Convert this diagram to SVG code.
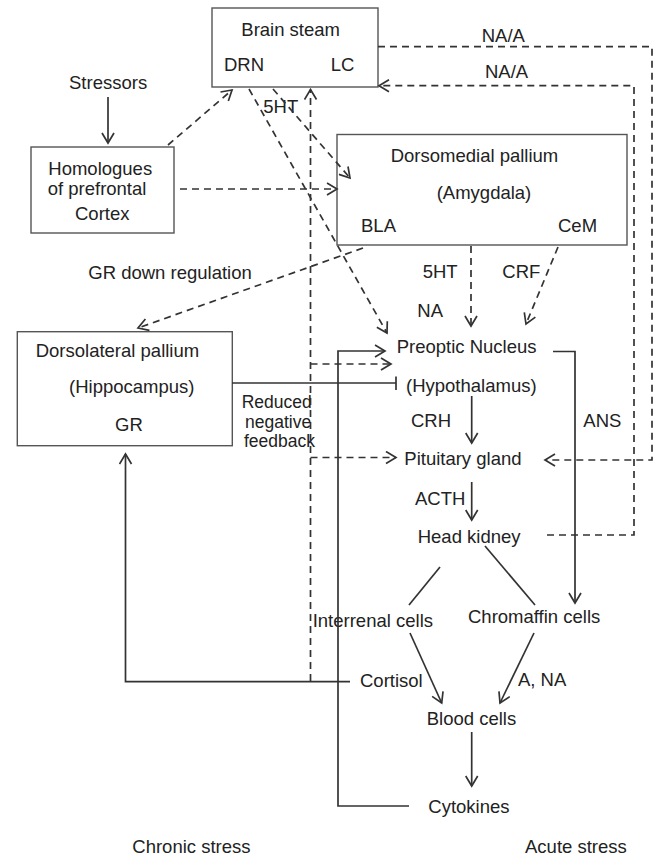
<svg xmlns="http://www.w3.org/2000/svg" width="656" height="857" viewBox="0 0 656 857">
<style>
text{font-family:"Liberation Sans",Arial,sans-serif;font-size:18.5px;fill:#222}
.box{fill:none;stroke:#555;stroke-width:1.4}
.s{fill:none;stroke:#333;stroke-width:1.7}
.d{fill:none;stroke:#333;stroke-width:1.7;stroke-dasharray:7 5}
.a{marker-end:url(#ah)}
</style>
<defs>
<marker id="ah" markerUnits="userSpaceOnUse" markerWidth="14" markerHeight="14" viewBox="-12 -7 14 14" refX="0" refY="0" orient="auto">
<path d="M-10,-6 L0,0 L-10,6" fill="none" stroke="#333" stroke-width="1.7"/>
</marker>
</defs>
<rect width="656" height="857" fill="#fff"/>
<g id="brain-steam">
<rect class="box" x="212" y="8" width="166" height="79"/>
<text x="241.3" y="36">Brain steam</text>
<text x="224" y="71">DRN</text>
<text x="330.7" y="71">LC</text>
</g>
<g id="stressors"><text x="69" y="89">Stressors</text></g>
<g id="prefrontal">
<rect class="box" x="31" y="147" width="143" height="86"/>
<text x="48.3" y="175">Homologues</text>
<text x="47.7" y="195">of prefrontal</text>
<text x="75" y="220">Cortex</text>
</g>
<g id="dorsomedial">
<rect class="box" x="337" y="134.5" width="290" height="110.5"/>
<text x="390.7" y="162.3">Dorsomedial pallium</text>
<text x="436.7" y="199">(Amygdala)</text>
<text x="361" y="231.7">BLA</text>
<text x="558" y="231.7">CeM</text>
</g>
<g id="dorsolateral">
<rect class="box" x="17.3" y="331.7" width="215" height="114"/>
<text x="35.7" y="356.7">Dorsolateral pallium</text>
<text x="69" y="393.3">(Hippocampus)</text>
<text x="115" y="430.7">GR</text>
</g>
<g id="hypothalamus">
<text x="396.7" y="353.3">Preoptic Nucleus</text>
<text x="406" y="391.7">(Hypothalamus)</text>
</g>
<g id="pituitary"><text x="404.3" y="465">Pituitary gland</text></g>
<g id="head-kidney"><text x="417.7" y="542.7">Head kidney</text></g>
<g id="interrenal"><text x="312.7" y="626.7">Interrenal cells</text></g>
<g id="chromaffin"><text x="468" y="623.3">Chromaffin cells</text></g>
<g id="blood-cells"><text x="426.7" y="725">Blood cells</text></g>
<g id="cytokines"><text x="428.3" y="813">Cytokines</text></g>
<g id="labels">
<text x="263.3" y="112.7">5HT</text>
<text x="481.7" y="41.7">NA/A</text>
<text x="485" y="78.3">NA/A</text>
<text x="88.3" y="279.3">GR down regulation</text>
<text x="422.7" y="278.3">5HT</text>
<text x="502.3" y="278.3">CRF</text>
<text x="417.3" y="316.7">NA</text>
<text style="font-size:17.5px"><tspan x="241.7" y="408.3">Reduced</tspan><tspan x="245" y="428.3">negative</tspan><tspan x="244" y="446.7">feedback</tspan></text>
<text x="411" y="426.7">CRH</text>
<text x="583.3" y="426.7">ANS</text>
<text x="415" y="505">ACTH</text>
<text x="360" y="686.7">Cortisol</text>
<text x="518" y="686">A, NA</text>
<text x="132.3" y="853.3">Chronic stress</text>
<text x="525" y="853.3">Acute stress</text>
</g>
<g id="connectors">
<line class="s a" x1="108" y1="97" x2="108" y2="143"/>
<line class="d a" x1="168" y1="145" x2="232" y2="90"/>
<line class="d a" x1="180" y1="189" x2="337" y2="189"/>
<line class="d a" x1="273" y1="89" x2="350" y2="178"/>
<line class="d a" x1="249" y1="89" x2="387" y2="333"/>
<polyline class="d a" points="378,46.7 652,46.7 652,460 545,460"/>
<polyline class="d a" points="547,535 634,535 634,85.7 379,85.7"/>
<line class="d a" x1="363" y1="248" x2="138" y2="328"/>
<line class="d a" x1="471" y1="246" x2="471" y2="326"/>
<line class="d a" x1="558" y1="247" x2="526" y2="324"/>
<line class="d a" x1="310.5" y1="681" x2="310.5" y2="89.5"/>
<line class="d a" x1="310.5" y1="364" x2="391" y2="364"/>
<line class="d a" x1="310.5" y1="457.5" x2="396" y2="457.5"/>
<polyline class="s a" points="409,806 338,806 338,351 385,351"/>
<line class="s" x1="232" y1="383" x2="396" y2="383"/>
<line class="s" x1="396" y1="376.5" x2="396" y2="390"/>
<polyline class="s a" points="553,351.5 575,351.5 575,603"/>
<line class="s a" x1="471.7" y1="396" x2="471.7" y2="443"/>
<line class="s a" x1="471.7" y1="482" x2="471.7" y2="520"/>
<line class="s" x1="440" y1="567" x2="409" y2="605"/>
<line class="s" x1="485" y1="546" x2="535" y2="605"/>
<line class="s a" x1="410" y1="633" x2="441.7" y2="703"/>
<line class="s a" x1="534" y1="633" x2="500" y2="703"/>
<line class="s a" x1="471.7" y1="732" x2="471.7" y2="786"/>
<polyline class="s a" points="350,681.7 125.5,681.7 125.5,454"/>
</g>
</svg>
